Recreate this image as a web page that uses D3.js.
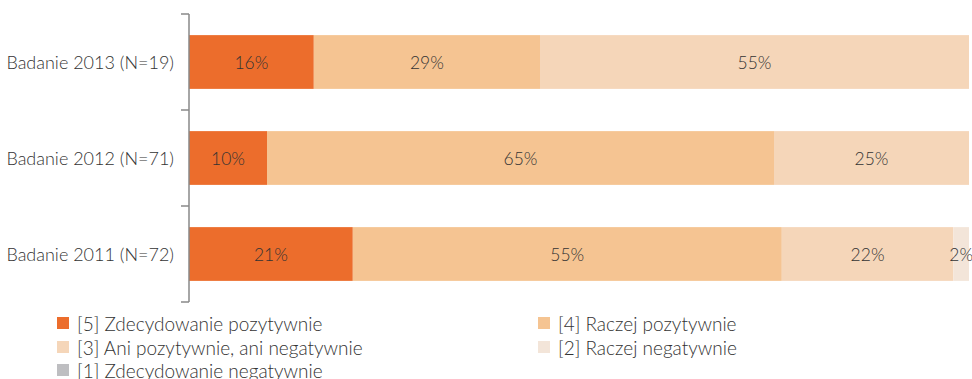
<!DOCTYPE html>
<html>
<head>
<meta charset="utf-8">
<script src="https://cdn.jsdelivr.net/npm/d3@7"></script>
<style>
  body { margin: 0; background: #fff; }
  svg text { font-family: Lato, "Open Sans", sans-serif; fill: #333; }
</style>
</head>
<body>
<svg id="chart" width="972" height="379"></svg>
<script>
// Survey waves (top to bottom) and answer shares in percent
const categories = ["Badanie 2013 (N=19)", "Badanie 2012 (N=71)", "Badanie 2011 (N=72)"];
const seriesNames = [
  "[5] Zdecydowanie pozytywnie",
  "[4] Raczej pozytywnie",
  "[3] Ani pozytywnie, ani negatywnie",
  "[2] Raczej negatywnie",
  "[1] Zdecydowanie negatywnie"
];
const s5 = [16, 10, 21];
const s4 = [29, 65, 55];
const s3 = [55, 25, 22];
const s2 = [0, 0, 2];
const s1 = [0, 0, 0];
const colors = ["#EC6D2C", "#F5C492", "#F5D6B9", "#F3E5D9", "#BEBEC1"];

const seriesValues = [s5, s4, s3, s2, s1];
const rows = categories.map((c, i) => {
  const r = { cat: c };
  seriesNames.forEach((s, j) => r[s] = seriesValues[j][i]);
  return r;
});

const svg = d3.select("#chart");
const x = d3.scaleLinear().domain([0, 100]).range([189, 969]);
const y = d3.scaleBand().domain(categories).range([14, 302]).paddingInner(0.44).paddingOuter(0.22);

const stack = d3.stack().keys(seriesNames)(rows);

const layer = svg.append("g").selectAll("g").data(stack).join("g")
  .attr("fill", (d, i) => colors[i]);

layer.selectAll("rect").data(d => d.map(v => ({ v, key: d.key })))
  .join("rect")
  .attr("x", d => x(d.v[0]))
  .attr("y", d => y(d.v.data.cat))
  .attr("width", d => x(d.v[1]) - x(d.v[0]))
  .attr("height", y.bandwidth());

// value labels centred in each segment
layer.selectAll("text").data(d => d.filter(v => v[1] - v[0] > 0).map(v => ({ v, key: d.key })))
  .join("text")
  .attr("x", d => (x(d.v[0]) + x(d.v[1])) / 2)
  .attr("y", d => y(d.v.data.cat) + y.bandwidth() / 2)
  .attr("text-anchor", "middle")
  .attr("dominant-baseline", "central")
  .style("font-size", "17.5px")
  .style("font-weight", 300)
  .text(d => (d.v[1] - d.v[0]) + "%");

// category axis with tick marks between bands
const axisG = svg.append("g");
axisG.append("line").attr("x1", 189).attr("x2", 189).attr("y1", 14).attr("y2", 302)
  .attr("stroke", "#888").attr("stroke-width", 1.5);
const tickYs = d3.range(categories.length + 1).map(i => 14 + i * (288 / categories.length));
axisG.selectAll("line.tick").data(tickYs).join("line").attr("class", "tick")
  .attr("x1", 181).attr("x2", 189).attr("y1", d => d).attr("y2", d => d)
  .attr("stroke", "#888").attr("stroke-width", 1.5);
axisG.selectAll("text").data(categories).join("text")
  .attr("x", 174)
  .attr("y", d => y(d) + y.bandwidth() / 2)
  .attr("text-anchor", "end")
  .attr("dominant-baseline", "central")
  .style("font-size", "18px")
  .style("font-weight", 300)
  .text(d => d);

// legend
const legendPos = [[57, 323], [538, 323], [57, 347], [538, 347], [57, 370]];
const leg = svg.append("g").selectAll("g").data(seriesNames).join("g")
  .attr("transform", (d, i) => `translate(${legendPos[i][0]},${legendPos[i][1]})`);
leg.append("rect").attr("x", 0).attr("y", -6).attr("width", 12).attr("height", 12)
  .attr("fill", (d, i) => colors[i]);
leg.append("text").attr("x", 20).attr("y", 0).attr("dominant-baseline", "central")
  .style("font-size", "19px").style("font-weight", 300).text(d => d);
</script>
</body>
</html>
